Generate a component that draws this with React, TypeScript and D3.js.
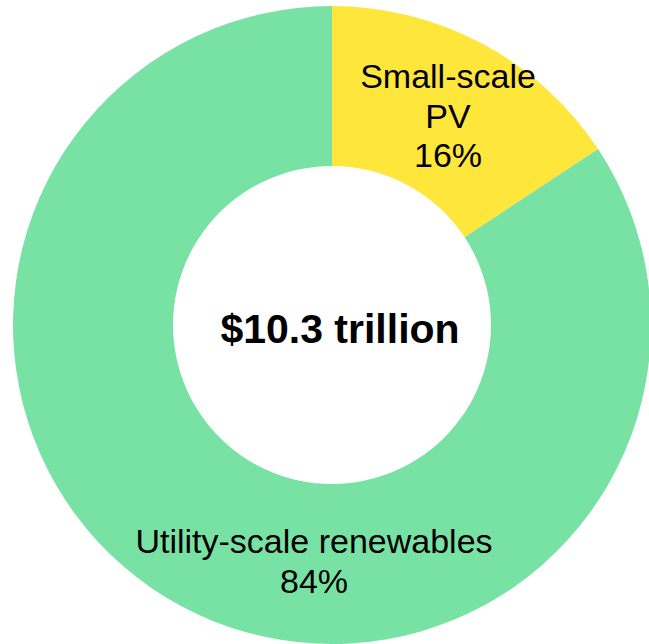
import React from "react";
import * as d3 from "d3";

const categories = ["Small-scale PV", "Utility-scale renewables"];
const shares = [15.7, 84.3];
const colors = ["#FFE63B", "#77E2A4"];
const labelLines = [["Small-scale", "PV", "16%"], ["Utility-scale renewables", "84%"]];
const totalLabel = "$10.3 trillion";

const W = 649;
const H = 644;
const cx = 332;
const cy = 325;
const outerR = 319;
const innerR = 159;

export default function App() {
  const pie = d3.pie<number>().value((d) => d).sort(null);
  const arcs = pie(shares);
  const arcGen = d3.arc<d3.PieArcDatum<number>>().innerRadius(innerR).outerRadius(outerR);
  const labelPos = [
    { x: 116, y: -237 },
    { x: -18, y: 228 },
  ];
  const lineH = 39.5;
  return (
    <svg
      width={W}
      height={H}
      style={{ position: "absolute", left: 0, top: 0, background: "#fff" }}
      fontFamily="'Liberation Sans', Arial, sans-serif"
    >
      <g transform={`translate(${cx},${cy})`}>
        {arcs.map((a, i) => (
          <path key={categories[i]} d={arcGen(a) || ""} fill={colors[i]} />
        ))}
        {labelLines.map((lines, i) => (
          <text key={i} textAnchor="middle" fontSize={34} fill="#000">
            {lines.map((l, j) => (
              <tspan key={j} x={labelPos[i].x} y={labelPos[i].y + j * lineH}>
                {l}
              </tspan>
            ))}
          </text>
        ))}
        <text x={8} y={18} textAnchor="middle" fontSize={41} fontWeight="bold" fill="#000">
          {totalLabel}
        </text>
      </g>
    </svg>
  );
}
